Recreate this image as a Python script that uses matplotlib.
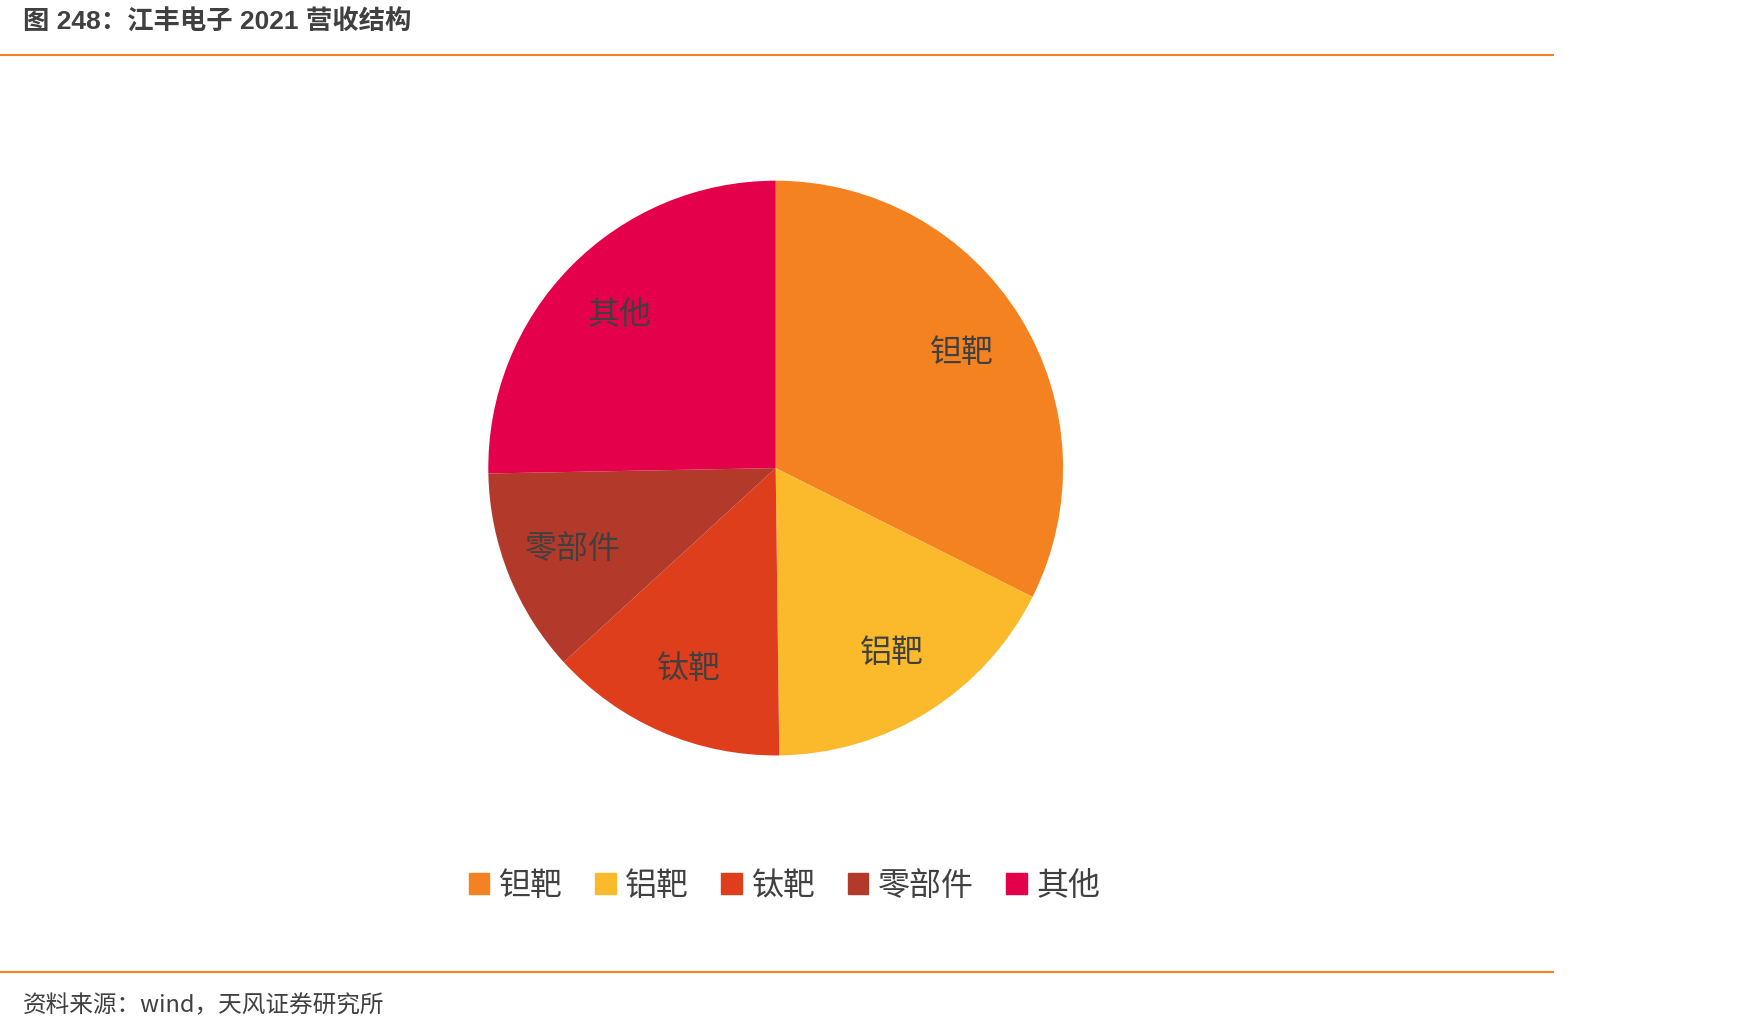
import matplotlib
matplotlib.use("Agg")
import matplotlib.pyplot as plt
from matplotlib.patches import Patch

plt.rcParams['font.family'] = ['Noto Sans CJK SC', 'DejaVu Sans']

categories = ['钽靶', '铝靶', '钛靶', '零部件', '其他']
values = [32.4, 17.4, 13.4, 11.5, 25.3]
colors = ['#F58220', '#FBBA2B', '#DE3E1B', '#B33A2B', '#E5004C']

fig = plt.figure(figsize=(17.47, 10.31), dpi=100)
ax = fig.add_axes([0.444 - 0.1645, 0.546 - 0.2795, 0.329, 0.559])
wedges, texts = ax.pie(values, labels=categories, colors=colors, startangle=90,
                       counterclock=False, labeldistance=0.76,
                       textprops=dict(fontsize=23, color='#404040', fontweight='light'))
for t in texts:
    t.set_ha('center'); t.set_va('center')
ax.set_xlim(-1, 1); ax.set_ylim(-1, 1)
ax.set_aspect('equal')

handles = [Patch(color=c) for c in colors]
fig.legend(handles, categories, loc='center', bbox_to_anchor=(0.449, 0.141), ncol=5,
           frameon=False, fontsize=23, handlelength=0.65, handleheight=0.65,
           handletextpad=0.3, columnspacing=1.0, labelcolor='#404040',
           prop=dict(size=23, weight='light'))

fig.text(0.013, 0.978, '图 248：江丰电子 2021 营收结构', fontsize=19, fontweight='bold',
         color='#404040', va='center', ha='left',
         family=['Liberation Sans', 'Noto Sans CJK SC'])
fig.add_artist(plt.Line2D([0, 0.889], [0.947, 0.947], color='#F58220', lw=1.5))
fig.add_artist(plt.Line2D([0, 0.889], [0.057, 0.057], color='#F58220', lw=1.5))
fig.text(0.013, 0.024, '资料来源：wind，天风证券研究所', fontsize=17, color='#404040',
         va='center', ha='left', fontweight='light')

fig.savefig('out.png', dpi=100)
